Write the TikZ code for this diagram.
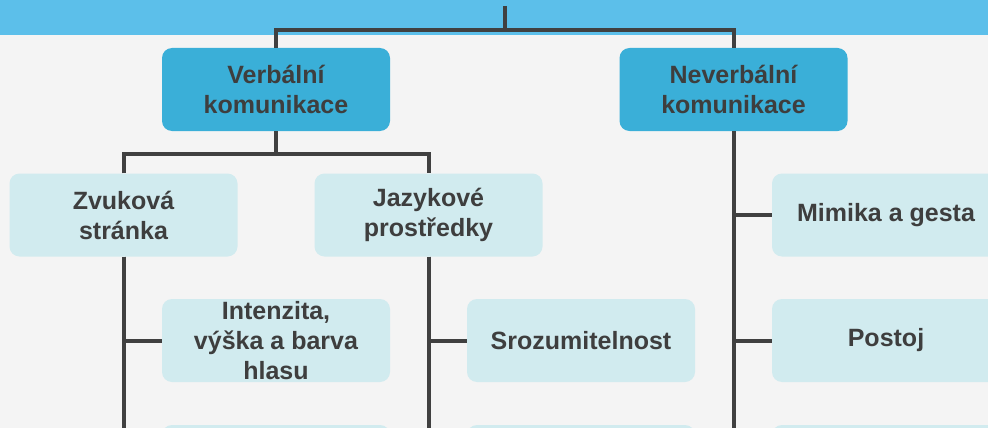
\documentclass[tikz,border=0pt]{standalone}
\usepackage{fontspec}
\setmainfont{Liberation Sans}
\definecolor{bg}{HTML}{F4F4F4}
\definecolor{band}{HTML}{5CBFEA}
\definecolor{dark}{HTML}{3AAFD8}
\definecolor{light}{HTML}{D1EBEF}
\definecolor{txt}{HTML}{3E3E3E}
\definecolor{linec}{HTML}{404040}
\begin{document}
\begin{tikzpicture}[x=1pt,y=-1pt,
  box/.style={rounded corners=10pt, minimum width=228pt, minimum height=83pt, inner sep=0pt, align=center, font=\fontsize{25}{30}\selectfont\bfseries, text=txt},
  lvlone/.style={box, fill=dark},
  lvltwo/.style={box, fill=light},
  conn/.style={draw=linec, line width=4pt}]
\useasboundingbox (0,0) rectangle (988,428);
\clip (0,0) rectangle (988,428);
\fill[bg] (0,0) rectangle (988,428);
\fill[band] (0,0) rectangle (988,35);

\node[lvlone] (verb) at (276,89.5) {Verbální\\komunikace};
\node[lvlone] (never) at (733.5,89.5) {Neverbální\\komunikace};

\node[lvltwo] (zvuk) at (123.5,215) {Zvuková\\stránka};
\node[lvltwo] (jazyk) at (428.5,215) {Jazykové\\prostředky};
\node[lvltwo] (mimika) at (886,215) {Mimika a gesta};

\node[lvltwo] (intenz) at (276,340.5) {Intenzita,\\výška a barva\\hlasu};
\node[lvltwo] (sroz) at (581,340.5) {Srozumitelnost};
\node[lvltwo] (postoj) at (886,340.5) {Postoj};

\node[lvltwo] (zb) at (276,466.5) {};
\node[lvltwo] (jb) at (581,466.5) {};
\node[lvltwo] (nb) at (886,466.5) {};

\coordinate (root) at (505,6);
\coordinate (bus) at (505,30);
\coordinate (vbus) at (276,154);

\draw[conn] (root) -- (bus);
\draw[conn] (verb.north) |- (bus) -| (never.north);
\draw[conn] (verb.south) -- (vbus);
\draw[conn] (zvuk.north) |- (vbus) -| (jazyk.north);

\draw[conn] (zvuk.south) |- (intenz.west);
\draw[conn] (zvuk.south) |- (zb.west);
\draw[conn] (jazyk.south) |- (sroz.west);
\draw[conn] (jazyk.south) |- (jb.west);
\draw[conn] (never.south) |- (mimika.west);
\draw[conn] (never.south) |- (postoj.west);
\draw[conn] (never.south) |- (nb.west);
\end{tikzpicture}
\end{document}
